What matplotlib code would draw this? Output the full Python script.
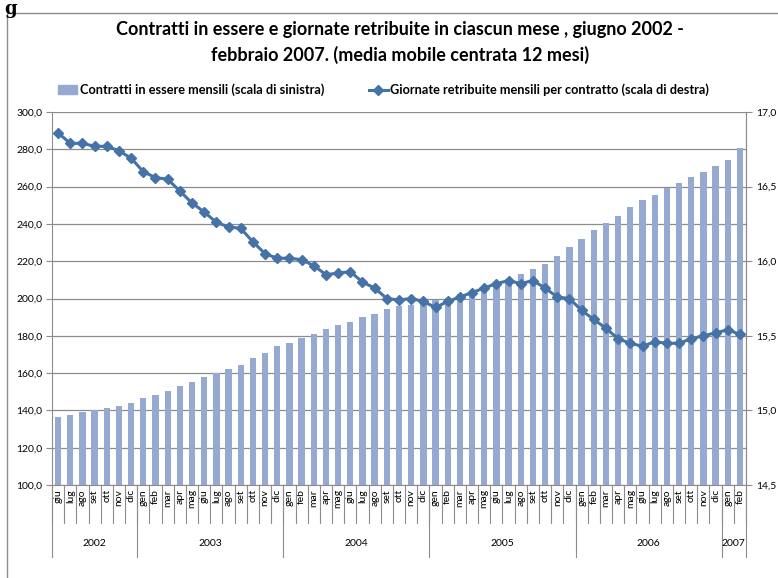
import numpy as np
import matplotlib.pyplot as plt
from matplotlib.lines import Line2D
from matplotlib.patches import Patch, Rectangle

plt.rcParams['font.family'] = ['Lato', 'DejaVu Sans']

mesi = ['gen', 'feb', 'mar', 'apr', 'mag', 'giu', 'lug', 'ago', 'set', 'ott', 'nov', 'dic']
labels = mesi[5:] + mesi * 4 + mesi[:2]
anni = ['2002', '2003', '2004', '2005', '2006', '2007']
mesi_per_anno = [7, 12, 12, 12, 12, 2]

contratti = [136.5, 137.5, 139.1, 140.2, 141.3, 142.4, 144.0, 146.6, 148.2, 150.4,
             153.1, 155.2, 157.9, 159.9, 162.2, 164.3, 168.1, 170.8, 174.5, 176.1,
             178.8, 181.0, 183.6, 185.8, 187.4, 190.1, 191.7, 194.4, 196.0, 196.5,
             198.3, 199.2, 200.1, 202.4, 203.7, 206.4, 208.2, 210.3, 213.1, 215.8,
             218.7, 223.0, 227.6, 231.9, 236.7, 240.3, 244.2, 249.1, 252.8, 255.5,
             259.2, 261.9, 265.1, 267.8, 271.0, 274.3, 280.5]

giornate = [16.86, 16.79, 16.79, 16.77, 16.77, 16.74, 16.69, 16.60, 16.56, 16.55,
            16.47, 16.39, 16.33, 16.26, 16.23, 16.22, 16.13, 16.05, 16.02, 16.02,
            16.01, 15.97, 15.91, 15.92, 15.93, 15.86, 15.82, 15.75, 15.74, 15.75,
            15.73, 15.69, 15.73, 15.76, 15.79, 15.82, 15.85, 15.87, 15.85, 15.87,
            15.82, 15.76, 15.75, 15.67, 15.61, 15.55, 15.48, 15.45, 15.43, 15.46,
            15.45, 15.45, 15.48, 15.50, 15.52, 15.54, 15.51]

bar_col = '#95a9d1'
line_col = '#4572a7'
grid_col = '#8c8c8c'

fig = plt.figure(figsize=(7.78, 5.78), dpi=100)
ax = fig.add_axes([52/778, 93/578, 694/778, 373/578])
x = np.arange(len(contratti))

ax.bar(x, contratti, width=0.52, color=bar_col, zorder=2)
ax.set_xlim(-0.5, len(x) - 0.5)
ax.set_ylim(100, 300)
ax.set_yticks(np.arange(100, 301, 20))
ax.set_yticklabels([f'{v:.1f}'.replace('.', ',') for v in np.arange(100, 301, 20)], fontsize=7.5)
ax.yaxis.grid(True, color=grid_col, lw=0.9, zorder=0)
ax.set_axisbelow(True)
ax.tick_params(axis='y', length=4, color=grid_col, pad=3)
ax.spines['top'].set_visible(False)
for s in ['left', 'bottom', 'right']:
    ax.spines[s].set_color(grid_col)

ax.set_xticks(x)
ax.set_xticklabels(labels, rotation=90, fontsize=7.5)
ax.tick_params(axis='x', length=0, pad=3)

ax2 = ax.twinx()
ax2.plot(x, giornate, color=line_col, lw=2.2, marker='D', markersize=5, zorder=3)
ax2.set_ylim(14.5, 17.0)
ax2.set_yticks(np.arange(14.5, 17.01, 0.5))
ax2.set_yticklabels([f'{v:.1f}'.replace('.', ',') for v in np.arange(14.5, 17.01, 0.5)], fontsize=7.5)
ax2.tick_params(axis='y', length=4, color=grid_col, pad=3)
for s in ['top', 'left', 'bottom']:
    ax2.spines[s].set_visible(False)
ax2.spines['right'].set_color(grid_col)

# separatori delle categorie sotto l'asse
tr = ax.get_xaxis_transform()
for i in range(len(x) + 1):
    ax.plot([i - 0.5, i - 0.5], [0, -38/373], color=grid_col, lw=0.8, transform=tr, clip_on=False)
start = 0
for anno, n in zip(anni, mesi_per_anno):
    ax.plot([start - 0.5, start - 0.5], [0, -72/373], color=grid_col, lw=0.8, transform=tr, clip_on=False)
    ax.text(start + n / 2 - 0.5, -59/373, anno, ha='center', va='center', fontsize=7.5, transform=tr)
    start += n
ax.plot([start - 0.5, start - 0.5], [0, -72/373], color=grid_col, lw=0.8, transform=tr, clip_on=False)

fig.text(0.514, 0.926, 'Contratti in essere e giornate retribuite in ciascun mese , giugno 2002 -\nfebbraio 2007. (media mobile centrata 12 mesi)',
         ha='center', va='center', fontsize=13, fontweight='bold', linespacing=1.5)

handles = [Patch(color=bar_col),
           Line2D([0], [0], color=line_col, lw=2.2, marker='D', markersize=5)]
fig.legend(handles, ['Contratti in essere mensili (scala di sinistra)',
                     'Giornate retribuite mensili per contratto (scala di destra)'],
           loc='center', bbox_to_anchor=(0.493, 1 - 90/578), ncol=2, frameon=False,
           handlelength=1.5, handletextpad=0.2, columnspacing=3.5,
           prop={'weight': 'bold', 'size': 9.2})

fig.patches.append(Rectangle((7/778, -0.1), 1.0, 1.1 - 13/578, transform=fig.transFigure,
                             fill=False, edgecolor=grid_col, lw=1))
fig.text(0.006, 1.0, 'g', fontsize=13, fontweight='bold', family='DejaVu Serif', va='top')

fig.savefig('out.png', dpi=100)
